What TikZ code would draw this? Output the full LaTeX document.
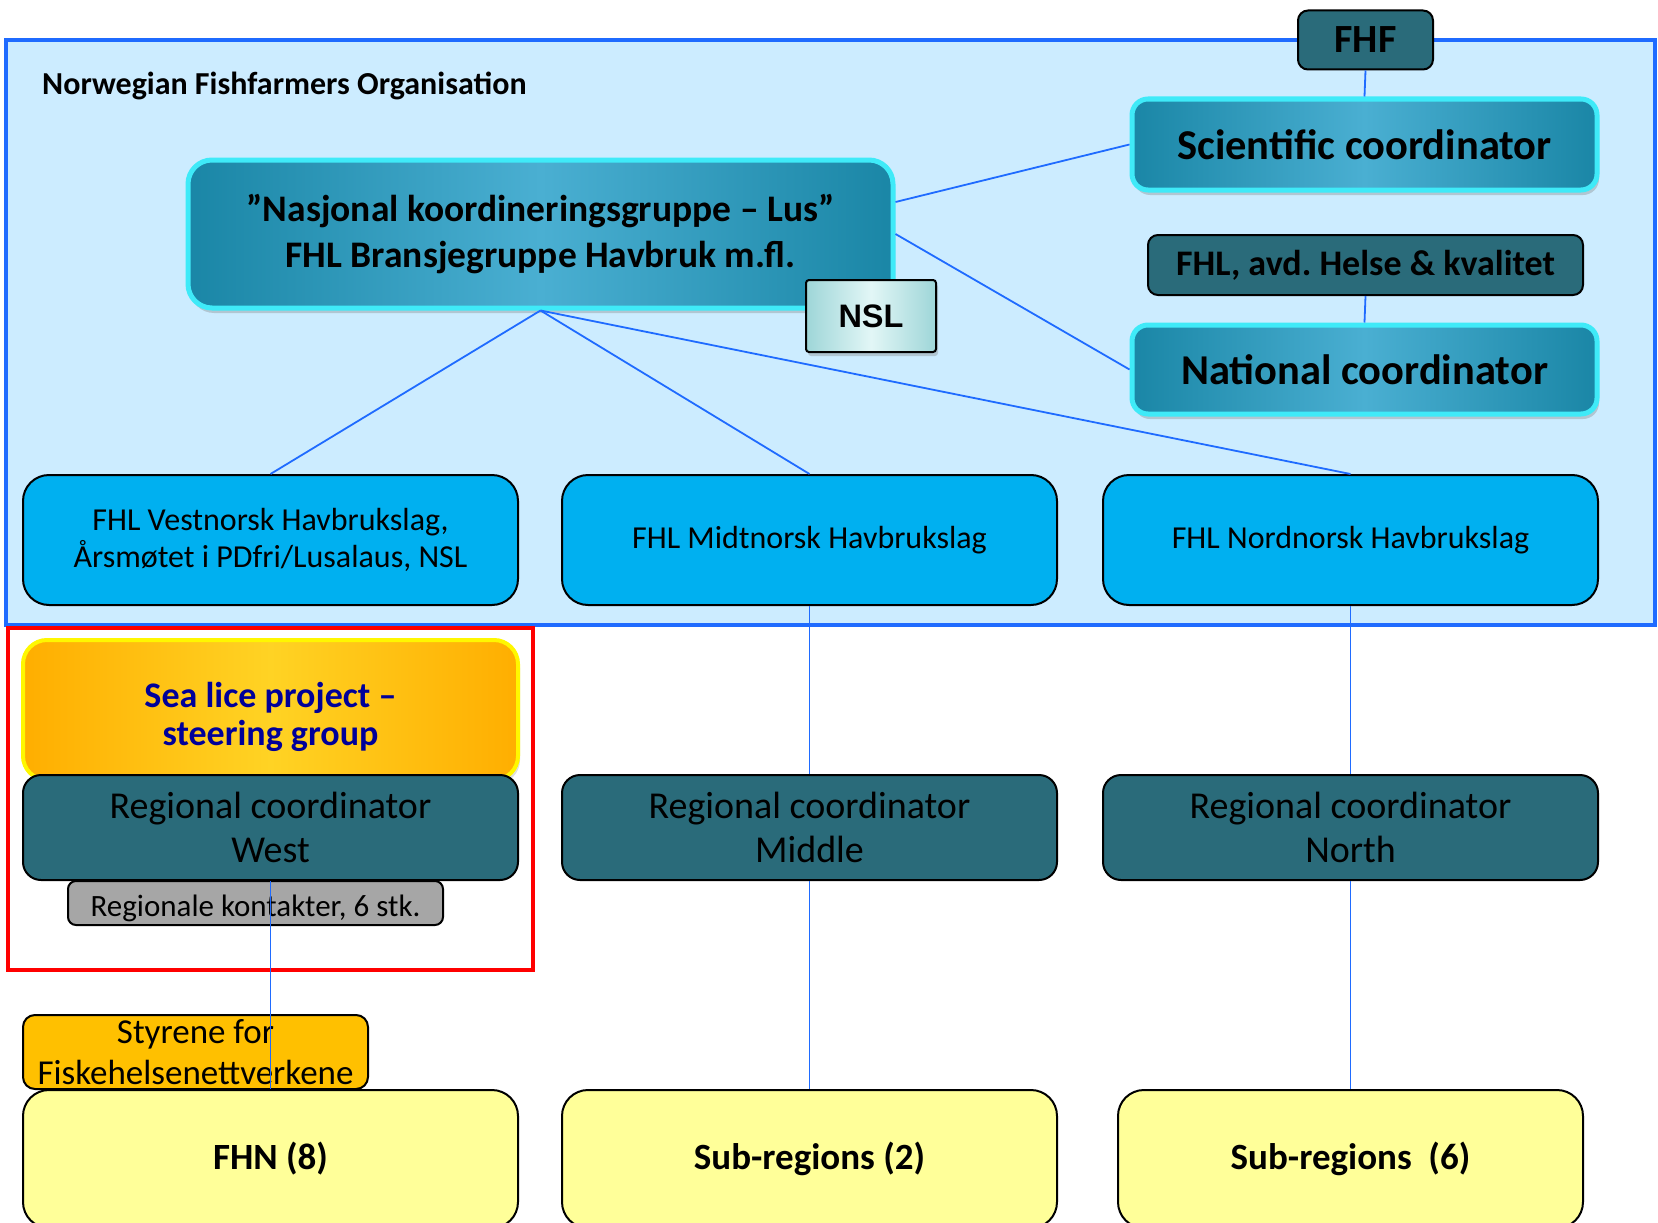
\documentclass[tikz,border=0pt]{standalone}
\usepackage{fontspec}
\setmainfont{Carlito}
\newfontfamily\arialf{Liberation Sans}
\usetikzlibrary{shadows}
\frenchspacing
\definecolor{outerfill}{HTML}{CCECFF}
\definecolor{linkblue}{HTML}{1F6BFF}
\definecolor{tealedge}{HTML}{1A86A6}
\definecolor{tealmid}{HTML}{4AAFD2}
\definecolor{cyanrim}{HTML}{3FEAF8}
\definecolor{darkteal}{HTML}{2A6B7A}
\definecolor{brightblue}{HTML}{00B0F0}
\definecolor{orangeedge}{HTML}{FFAE00}
\definecolor{orangemid}{HTML}{FFD324}
\definecolor{yelrim}{HTML}{FFF700}
\definecolor{amber}{HTML}{FFC000}
\definecolor{paleyellow}{HTML}{FFFF99}
\definecolor{greybox}{HTML}{A6A6A6}
\definecolor{navytext}{HTML}{000099}
\definecolor{nslside}{HTML}{9ED6D8}
\definecolor{nslmid}{HTML}{E2F6F6}
\tikzset{
  tealbox/.style={rectangle, rounded corners=16pt, draw=cyanrim, line width=5pt,
    left color=tealedge, right color=tealedge, middle color=tealmid,
    drop shadow={shadow xshift=2pt, shadow yshift=-5pt, opacity=0.35},
    align=center, text=black, inner sep=0pt},
  darkbox/.style={rectangle, rounded corners=12pt, draw=black, line width=2pt,
    fill=darkteal, align=center, text=black, inner sep=0pt},
  bluebox/.style={rectangle, rounded corners=26pt, draw=black, line width=2pt,
    fill=brightblue, align=center, text=black, inner sep=0pt,
    font={\fontsize{32}{37}\selectfont}},
  yelbox/.style={rectangle, rounded corners=26pt, draw=black, line width=2pt,
    fill=paleyellow, align=center, text=black, inner sep=0pt,
    font={\fontsize{37}{40}\selectfont\bfseries}},
  regbox/.style={darkbox, rounded corners=18pt, minimum width=495pt, minimum height=105pt,
    font={\fontsize{38}{44}\selectfont}},
  conn/.style={draw=linkblue, line width=1.8pt},
}
\begin{document}
\begin{tikzpicture}[x=1pt,y=-1pt]
\useasboundingbox (0,0) rectangle (1658,1223);
% outer organisation frame
\draw[draw=linkblue, line width=4pt, fill=outerfill] (6,40) rectangle (1655,625);
\node[anchor=west, inner sep=0pt, font={\fontsize{32}{36}\selectfont\bfseries}] (title) at (42,86)
  {Norwegian Fishfarmers Organisation};

% red frame
\draw[draw=red, line width=4pt] (8,628) rectangle (533,970);

% top right column
\node[darkbox, minimum width=135pt, minimum height=59pt, rounded corners=10pt,
  font={\fontsize{40}{44}\selectfont\bfseries}] (fhf) at (1365.5,40) {FHF};
\node[tealbox, minimum width=465pt, minimum height=91pt,
  font={\fontsize{42.5}{46}\selectfont\bfseries}] (sci) at (1364.5,144.5) {Scientific coordinator};
\node[darkbox, minimum width=435pt, minimum height=60pt, rounded corners=10pt,
  font={\fontsize{36}{40}\selectfont\bfseries}] (avd) at (1365.5,265) {FHL, avd. Helse \& kvalitet};
\node[tealbox, minimum width=465pt, minimum height=89pt,
  font={\fontsize{42.5}{46}\selectfont\bfseries}] (nat) at (1364.5,369.5) {National coordinator};

% national group
\node[tealbox, minimum width=705pt, minimum height=148pt, rounded corners=24pt,
  font={\fontsize{37.5}{46}\selectfont\bfseries}] (nas) at (540.5,234)
  {”Nasjonal koordineringsgruppe – Lus”\\ FHL Bransjegruppe Havbruk m.fl.};
\node[rectangle, rounded corners=3pt, draw=black, line width=2pt,
  left color=nslside, right color=nslside, middle color=nslmid,
  drop shadow={shadow xshift=2pt, shadow yshift=-4pt, opacity=0.35},
  minimum width=130pt, minimum height=72pt, inner sep=0pt,
  font={\arialf\fontsize{32.5}{36}\selectfont\bfseries}] (nsl) at (871,316) {NSL};

% regional associations
\node[bluebox, minimum width=495pt, minimum height=130pt] (vest) at (270.5,540)
  {FHL Vestnorsk Havbrukslag,\\ Årsmøtet i PDfri/Lusalaus, NSL};
\node[bluebox, minimum width=495pt, minimum height=130pt] (midt) at (809.5,540)
  {FHL Midtnorsk Havbrukslag};
\node[bluebox, minimum width=495pt, minimum height=130pt] (nord) at (1350.5,540)
  {FHL Nordnorsk Havbrukslag};

% sea lice project
\node[rectangle, rounded corners=24pt, draw=yelrim, line width=4pt,
  left color=orangeedge, right color=orangeedge, middle color=orangemid,
  drop shadow={shadow xshift=2pt, shadow yshift=-4pt, opacity=0.25},
  minimum width=495pt, minimum height=140pt, align=center, text=navytext, inner sep=0pt,
  text height=79pt, text depth=8pt,
  font={\fontsize{36}{38}\selectfont\bfseries}] (sea) at (270.5,710)
  {Sea lice project –\\ steering group};

% regional coordinators
\node[regbox] (rw) at (270.5,827.5) {Regional coordinator\\ West};
\node[regbox] (rm) at (809.5,827.5) {Regional coordinator\\ Middle};
\node[regbox] (rn) at (1350.5,827.5) {Regional coordinator\\ North};

\node[rectangle, rounded corners=8pt, draw=black, line width=2pt, fill=greybox,
  minimum width=375pt, minimum height=44pt, inner sep=0pt,
  text height=33pt, text depth=6.5pt,
  font={\fontsize{31}{34}\selectfont}] (kont) at (255.5,903)
  {Regionale kontakter, 6 stk.};

\node[rectangle, rounded corners=12pt, draw=black, line width=2pt, fill=amber,
  minimum width=345pt, minimum height=74pt, inner sep=0pt, align=center,
  font={\fontsize{35}{41}\selectfont}] (styr) at (195.5,1052)
  {Styrene for\\ Fiskehelsenettverkene};

% bottom boxes
\node[yelbox, minimum width=495pt, minimum height=138pt] (fhn) at (270.5,1159) {FHN (8)};
\node[yelbox, minimum width=495pt, minimum height=138pt] (sub2) at (809.5,1159) {Sub-regions (2)};
\node[yelbox, minimum width=465pt, minimum height=138pt] (sub6) at (1350.5,1159) {Sub-regions~~(6)};

% connectors
\draw[conn] (fhf.south) -- (sci.north);
\draw[conn] (avd.south) -- (nat.north);
\draw[conn] ([yshift=32pt]nas.east) -- (sci.west);
\draw[conn] (nas.east) -- (nat.west);
\draw[conn] (nas.south) -- (vest.north);
\draw[conn] (nas.south) -- (midt.north);
\draw[conn] (nas.south) -- (nord.north);
\draw[conn] (midt.south) -- (rm.north);
\draw[conn] (nord.south) -- (rn.north);
\draw[conn] (rm.south) -- (sub2.north);
\draw[conn] (rn.south) -- (sub6.north);
\draw[conn] (rw.south) -- (fhn.north);
\end{tikzpicture}
\end{document}
